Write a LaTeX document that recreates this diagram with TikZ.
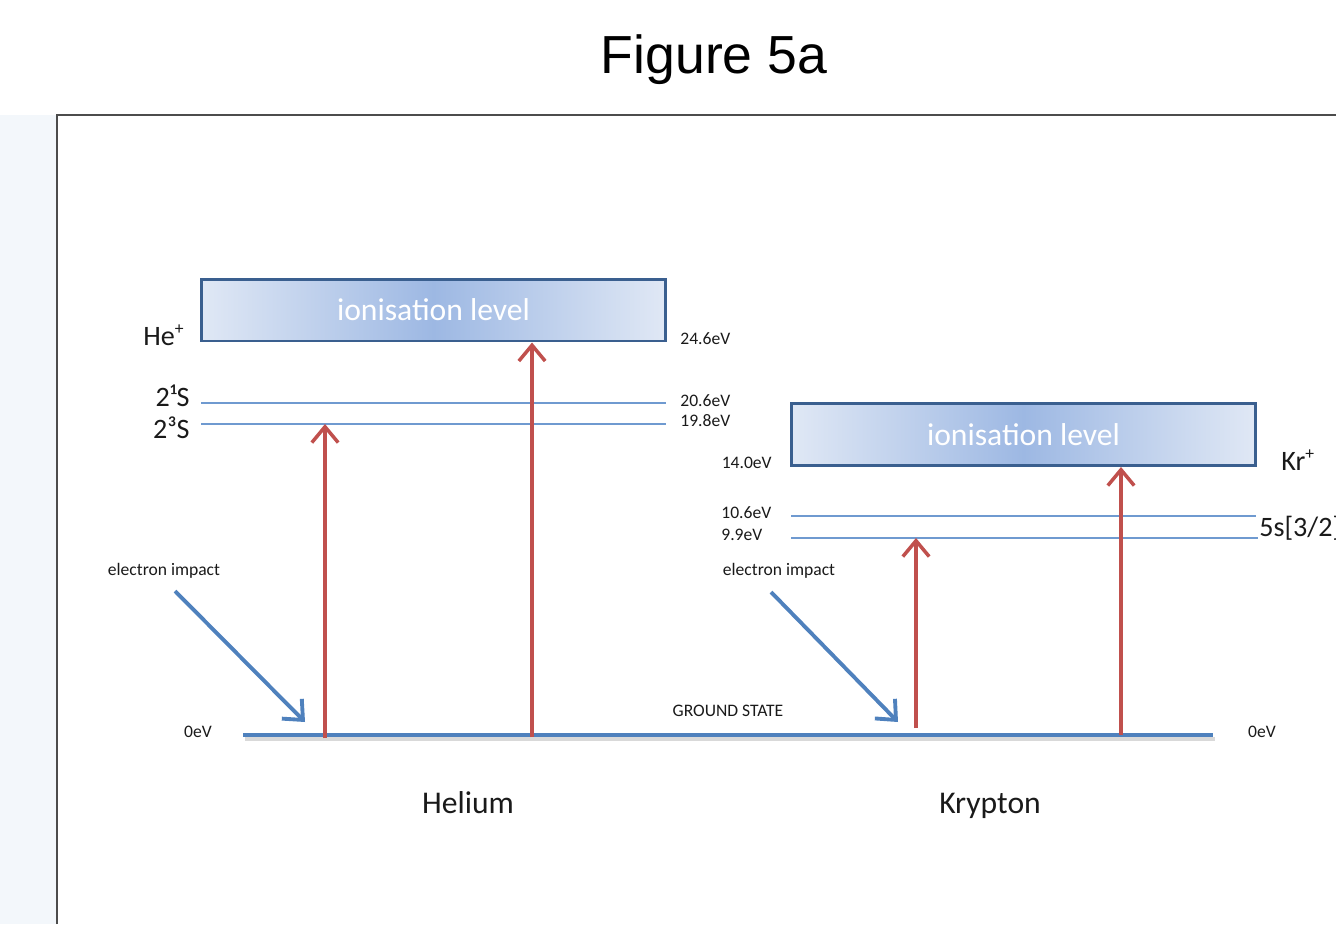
\documentclass[tikz,border=0pt]{standalone}
\usepackage{fontspec}
\setmainfont{Carlito}
\newfontfamily\titlefont{Liberation Sans}
\usetikzlibrary{arrows.meta}
\definecolor{levelblue}{HTML}{6F9AD0}
\definecolor{groundblue}{HTML}{4F81BD}
\definecolor{boxedge}{HTML}{3A5F8F}
\definecolor{boxlight}{HTML}{E0E8F5}
\definecolor{boxmid}{HTML}{9DB8E3}
\definecolor{arrowred}{HTML}{C0504D}
\definecolor{stripblue}{HTML}{F3F7FB}
\definecolor{labelgray}{HTML}{1A1A1A}
\newcommand{\ionplus}{\raisebox{0.38em}{\fontsize{10}{10}\selectfont+}}

\begin{document}
\begin{tikzpicture}[x=0.02cm,y=-0.02cm,
  ionbox/.style={draw=boxedge,line width=1.7pt,left color=boxlight,right color=boxlight,
    middle color=boxmid,minimum width=9.3cm,minimum height=1.24cm,inner sep=0pt,
    text=white,font=\fontsize{18}{20}\selectfont},
  lvl/.style={levelblue,line width=0.85pt},
  excite/.style={arrowred,line width=2pt,-{Straight Barb[length=9pt,width=15pt]}},
  impact/.style={groundblue,line width=2.2pt,-{Straight Barb[length=9pt,width=16pt]}},
  small/.style={inner sep=0pt,text=labelgray,font=\fontsize{10}{12}\selectfont},
  big/.style={inner sep=0pt,text=labelgray,font=\fontsize{16}{18}\selectfont},
  atom/.style={inner sep=0pt,text=labelgray,font=\fontsize{18}{20}\selectfont}]
\path[use as bounding box] (0,0) rectangle (1336,924);
\clip (0,0) rectangle (1336,924);
\fill[stripblue] (0,115) rectangle (57,924);
\draw[black!70,line width=1pt] (57,924) -- (57,115) -- (1336,115);
\node[anchor=base,inner sep=0pt,font=\titlefont\fontsize{30.5}{34}\selectfont] (title) at (714,73) {Figure 5a};

% helium
\node[ionbox] (heion) at (433.5,310) {ionisation level};
\node[big,anchor=east] (hep) at (184,335) {He\ionplus};
\node[small,anchor=west] (he246) at (680,339) {24.6eV};
\coordinate (he21l) at (201,403);
\coordinate (he21r) at (666,403);
\coordinate (he23l) at (201,424);
\coordinate (he23r) at (666,424);
\draw[lvl] (he21l) -- (he21r);
\draw[lvl] (he23l) -- (he23r);
\node[big,anchor=east] (he21) at (190,396) {2¹S};
\node[big,anchor=east] (he23) at (190,428) {2³S};
\node[small,anchor=west] (he206) at (680,401) {20.6eV};
\node[small,anchor=west] (he198) at (680,421) {19.8eV};

% krypton
\node[ionbox] (krion) at (1023.5,434.5) {ionisation level};
\node[big,anchor=west] (krp) at (1281,460) {Kr\ionplus};
\node[small,anchor=east] (kr140) at (772,463) {14.0eV};
\coordinate (kr106l) at (791,516);
\coordinate (kr106r) at (1256,516);
\coordinate (kr99l) at (791,538);
\coordinate (kr99r) at (1258,538);
\draw[lvl] (kr106l) -- (kr106r);
\draw[lvl] (kr99l) -- (kr99r);
\node[small,anchor=west] (kr106) at (721,513) {10.6eV};
\node[small,anchor=west] (kr99) at (721,535) {9.9eV};
\node[big,anchor=west] (kr5s) at (1259,528) {5s[3/2]};

% ground state
\coordinate (gl) at (243,735);
\coordinate (gr) at (1213,735);
\draw[black!15,line width=2.6pt] (245,739) -- (1215,739);
\draw[groundblue,line width=2.8pt] (gl) -- (gr);
\node[small,anchor=center] (gs) at (728,711) {GROUND STATE};
\node[small,anchor=center] (zl) at (198,732) {0eV};
\node[small,anchor=center] (zr) at (1262,732) {0eV};

% excitation arrows
\coordinate (heA) at (325,738);
\coordinate (heB) at (532,737);
\coordinate (krA) at (916,728);
\coordinate (krB) at (1121,735);
\draw[excite] (heA) -- (heA |- he23l);
\draw[excite] (heB) -- (heB |- heion.south);
\draw[excite] (krA) -- (krA |- kr99l);
\draw[excite] (krB) -- (krB |- krion.south);

% electron impact
\node[small,anchor=center] (eil) at (164,571) {electron impact};
\node[small,anchor=center] (eir) at (779,571) {electron impact};
\coordinate (eil0) at (175,591);
\coordinate (eil1) at (305,722);
\coordinate (eir0) at (771,592);
\coordinate (eir1) at (898,722);
\draw[impact] (eil0) -- (eil1);
\draw[impact] (eir0) -- (eir1);

\node[atom,anchor=base] (helium) at (468,813) {Helium};
\node[atom,anchor=base] (krypton) at (990,813) {Krypton};
\end{tikzpicture}
\end{document}
